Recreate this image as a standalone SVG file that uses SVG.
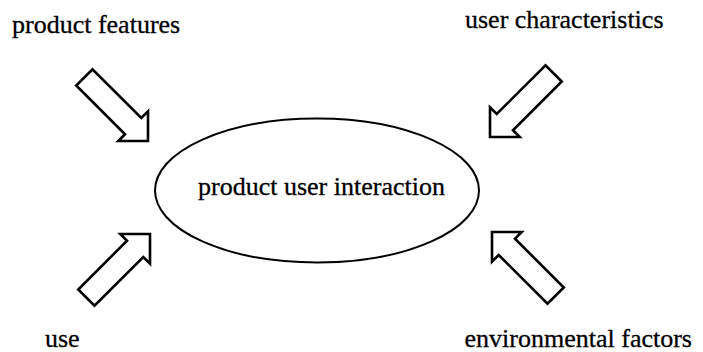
<svg xmlns="http://www.w3.org/2000/svg" width="703" height="352" viewBox="0 0 703 352">
<style>
.lbl{font-family:"Liberation Serif","Times New Roman",serif;font-size:26px;fill:#000;stroke:#000;stroke-width:0.3}
.arr{fill:#fff;stroke:#000;stroke-width:2.6;stroke-linejoin:miter}
.ell{fill:#fff;stroke:#000;stroke-width:2}
</style>
<defs>
<path id="blk" d="M0,0 L-21,21 L-21,11.5 L-90,11.5 L-90,-11.5 L-21,-11.5 L-21,-21 Z"/>
</defs>
<rect width="703" height="352" fill="#fff"/>
<g id="connectors">
<use href="#blk" class="arr" transform="translate(148,141) rotate(45)"/>
<use href="#blk" class="arr" transform="translate(490,137) rotate(135)"/>
<use href="#blk" class="arr" transform="translate(150,234) rotate(-45)"/>
<use href="#blk" class="arr" transform="translate(492,232) rotate(-135)"/>
</g>
<g id="center">
<ellipse class="ell" cx="317" cy="190.5" rx="162" ry="72"/>
<text class="lbl" x="321.5" y="195" text-anchor="middle">product user interaction</text>
</g>
<g id="product-features"><text class="lbl" x="12" y="33">product features</text></g>
<g id="user-characteristics"><text class="lbl" x="465" y="28">user characteristics</text></g>
<g id="use"><text class="lbl" x="45" y="347">use</text></g>
<g id="environmental-factors"><text class="lbl" x="692" y="347" text-anchor="end">environmental factors</text></g>
</svg>
